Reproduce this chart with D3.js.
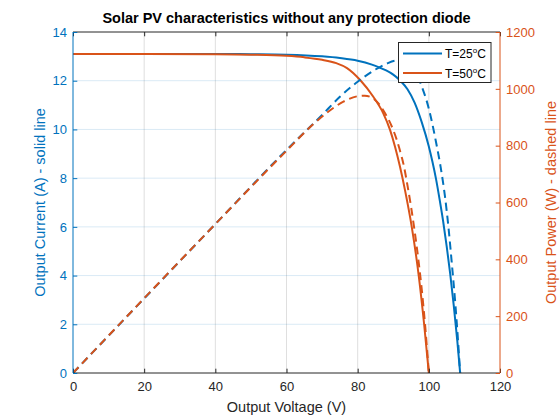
<!DOCTYPE html>
<html><head><meta charset="utf-8">
<script src="https://cdn.jsdelivr.net/npm/d3@7"></script>
<style>
body{margin:0;background:#fff;}
svg{display:block;font-family:"Liberation Sans",Arial,sans-serif;}
</style></head>
<body>
<svg id="c" width="560" height="420"></svg>
<script>
// ---- data ----
const xTicks = [0, 20, 40, 60, 80, 100, 120];
const currentTicks = [0, 2, 4, 6, 8, 10, 12, 14];
const powerTicks = [0, 200, 400, 600, 800, 1000, 1200];
const seriesNames = ["T=25", "T=50"];

// T=25°C current (A) vs voltage (V)
const vCurrent25 = [0, 20, 40, 50, 60, 70, 75, 80, 84, 86, 88, 90, 92, 94, 96, 98, 100, 101, 102, 103, 104, 105, 106, 107, 108, 108.8];
const iCurrent25 = [13.1, 13.1, 13.1, 13.09, 13.07, 13.0, 12.93, 12.82, 12.66, 12.55, 12.42, 12.25, 12.0, 11.65, 11.1, 10.3, 9.3, 8.68, 7.98, 7.15, 6.25, 5.22, 4.08, 2.78, 1.32, 0];
// T=50°C current (A)
const vCurrent50 = [0, 20, 40, 50, 60, 65, 70, 74, 77, 80.7, 84.4, 87.2, 89.1, 90.5, 91.9, 93.3, 95.2, 97.2, 98.7, 100];
const iCurrent50 = [13.1, 13.1, 13.09, 13.07, 13.02, 12.96, 12.86, 12.72, 12.52, 12.03, 11.34, 10.66, 9.98, 9.29, 8.47, 7.51, 6.0, 3.95, 1.97, 0];
// T=25°C power (W)
const vPower25 = [0, 40, 60, 70, 75, 80, 85, 88, 91, 94, 96, 98, 100, 102, 103.6, 104.5, 105.5, 106.5, 107.5, 108.2, 108.8];
const pPower25 = [0, 524, 785, 908, 972, 1025, 1068, 1088, 1100, 1094, 1066, 1009, 930, 814, 703, 625, 515, 380, 235, 115, 0];
// T=50°C power (W)
const vPower50 = [0, 40, 60, 67.5, 72, 76, 80, 82, 84.9, 87.7, 90, 91, 92, 93, 94, 95, 96, 97, 98, 99, 100];
const pPower50 = [0, 524, 782, 875, 922, 955, 974, 976, 961, 914, 855, 820, 778, 728, 660, 585, 500, 405, 295, 162, 0];

const BLUE = "#0072BD", ORANGE = "#D95319", DARK = "#262626";

const svg = d3.select("#c");
const L = 73, R = 500, T = 32, B = 373;
const x = d3.scaleLinear().domain([0, 120]).range([L, R]);
const yI = d3.scaleLinear().domain([0, 14]).range([B, T]);
const yP = d3.scaleLinear().domain([0, 1200]).range([B, T]);

// grid
const g = svg.append("g");
g.selectAll(".vg").data(xTicks.slice(1, -1)).enter().append("line")
  .attr("x1", d => x(d)).attr("x2", d => x(d)).attr("y1", T).attr("y2", B)
  .attr("stroke", "rgba(38,38,38,0.15)").attr("stroke-width", 1);
g.selectAll(".hg").data(currentTicks.slice(1, -1)).enter().append("line")
  .attr("x1", L).attr("x2", R).attr("y1", d => yI(d)).attr("y2", d => yI(d))
  .attr("stroke", "rgba(0,114,189,0.15)").attr("stroke-width", 1);

svg.append("clipPath").attr("id", "pc").append("rect")
  .attr("x", L).attr("y", T).attr("width", R - L).attr("height", B - T);

const mk = (xs, ys) => xs.map((v, i) => [v, ys[i]]);
const lineI = d3.line().x(d => x(d[0])).y(d => yI(d[1])).curve(d3.curveMonotoneX);
const lineP = d3.line().x(d => x(d[0])).y(d => yP(d[1])).curve(d3.curveMonotoneX);

const plot = svg.append("g").attr("clip-path", "url(#pc)");
plot.append("path").attr("d", lineI(mk(vCurrent25, iCurrent25))).attr("fill", "none")
  .attr("stroke", BLUE).attr("stroke-width", 2);
plot.append("path").attr("d", lineI(mk(vCurrent50, iCurrent50))).attr("fill", "none")
  .attr("stroke", ORANGE).attr("stroke-width", 2);
plot.append("path").attr("d", lineP(mk(vPower25, pPower25))).attr("fill", "none")
  .attr("stroke", BLUE).attr("stroke-width", 2).attr("stroke-dasharray", "8,5");
plot.append("path").attr("d", lineP(mk(vPower50, pPower50))).attr("fill", "none")
  .attr("stroke", ORANGE).attr("stroke-width", 2).attr("stroke-dasharray", "8,5");

// axes
const tl = 4.3;
const FONT = "Liberation Sans, Arial, sans-serif";
const bx = d3.axisBottom(x).tickValues(xTicks).tickSize(-tl).tickPadding(9).tickFormat(d3.format("d"));
const gb = svg.append("g").attr("transform", `translate(0,${B})`).call(bx);
gb.select(".domain").attr("stroke", DARK).attr("d", `M${L},0H${R}`);
gb.selectAll(".tick line").attr("stroke", DARK);
gb.selectAll("text").attr("fill", DARK).attr("font-size", 13).attr("font-family", FONT);
const tx = d3.axisTop(x).tickValues(xTicks).tickSize(-tl).tickFormat("");
const gt = svg.append("g").attr("transform", `translate(0,${T})`).call(tx);
gt.select(".domain").attr("stroke", DARK).attr("d", `M${L},0H${R}`);
gt.selectAll(".tick line").attr("stroke", DARK);
const ly = d3.axisLeft(yI).tickValues(currentTicks).tickSize(-tl).tickPadding(6).tickFormat(d3.format("d"));
const gl = svg.append("g").attr("transform", `translate(${L},0)`).call(ly);
gl.select(".domain").attr("stroke", BLUE).attr("d", `M0,${T}V${B}`);
gl.selectAll(".tick line").attr("stroke", BLUE);
gl.selectAll("text").attr("fill", BLUE).attr("font-size", 13).attr("font-family", FONT);
const ry = d3.axisRight(yP).tickValues(powerTicks).tickSize(-tl).tickPadding(6).tickFormat(d3.format("d"));
const gr = svg.append("g").attr("transform", `translate(${R},0)`).call(ry);
gr.select(".domain").attr("stroke", ORANGE).attr("d", `M0,${T}V${B}`);
gr.selectAll(".tick line").attr("stroke", ORANGE);
gr.selectAll("text").attr("fill", ORANGE).attr("font-size", 13).attr("font-family", FONT);

// labels
svg.append("text").attr("x", (L + R) / 2).attr("y", 23).attr("text-anchor", "middle")
  .attr("font-size", 14.5).attr("font-weight", "bold").attr("fill", "#000")
  .text("Solar PV characteristics without any protection diode");
svg.append("text").attr("x", (L + R) / 2).attr("y", 412).attr("text-anchor", "middle")
  .attr("font-size", 14.5).attr("fill", DARK).text("Output Voltage (V)");
svg.append("text").attr("transform", `translate(45,${(T + B) / 2}) rotate(-90)`).attr("text-anchor", "middle")
  .attr("font-size", 14.5).attr("fill", BLUE).text("Output Current (A) - solid line");
svg.append("text").attr("transform", `translate(546,${(T + B) / 2}) rotate(-90)`).attr("text-anchor", "middle")
  .attr("dy", "0.7em")
  .attr("font-size", 14.5).attr("fill", ORANGE).text("Output Power (W) - dashed line");

// legend
const lg = svg.append("g");
lg.append("rect").attr("x", 398.5).attr("y", 42.5).attr("width", 92.5).attr("height", 40)
  .attr("fill", "#fff").attr("stroke", DARK).attr("stroke-width", 1);
const colors = [BLUE, ORANGE];
seriesNames.forEach((n, i) => {
  const yy = 53.5 + i * 19.5;
  lg.append("line").attr("x1", 403).attr("x2", 442).attr("y1", yy).attr("y2", yy)
    .attr("stroke", colors[i]).attr("stroke-width", 2);
  const t = lg.append("text").attr("x", 445).attr("y", yy + 4.5).attr("font-size", 12).attr("fill", "#000");
  t.append("tspan").text(n);
  t.append("tspan").attr("dy", -5).attr("font-size", 8).text("o");
  t.append("tspan").attr("dy", 5).text("C");
});
</script>
</body></html>
